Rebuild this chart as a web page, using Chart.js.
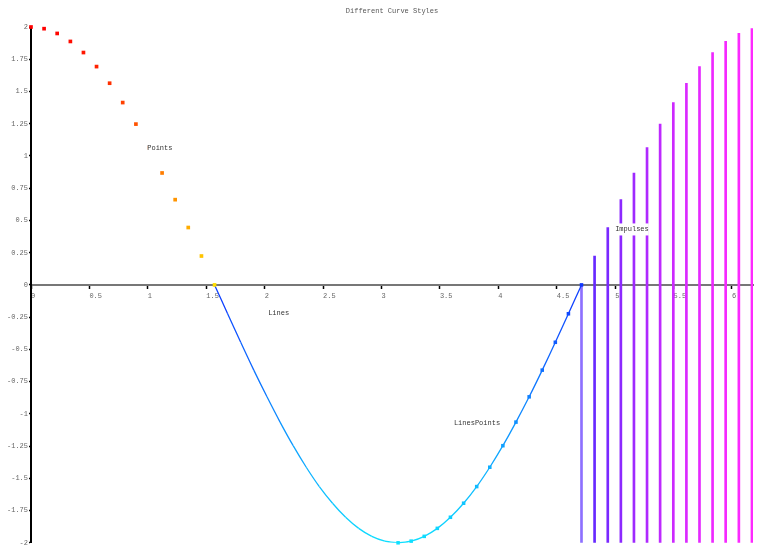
<!DOCTYPE html>
<html>
<head>
<meta charset="utf-8">
<script src="https://cdn.jsdelivr.net/npm/chart.js@4.4.0/dist/chart.umd.min.js"></script>
<style>
  html, body { margin: 0; padding: 0; background: #fff; }
  #wrap { width: 757px; height: 548px; }
</style>
</head>
<body>
<div id="wrap"><canvas id="curves"></canvas></div>
<script>
// Different Curve Styles

const pointsX = [0, 0.112, 0.224, 0.337, 0.449, 0.561, 0.673, 0.785, 0.898, 1.010, 1.122, 1.234, 1.346, 1.459, 1.571];
const pointsY = [2, 1.987, 1.950, 1.888, 1.802, 1.693, 1.564, 1.414, 1.247, 1.064, 0.868, 0.661, 0.445, 0.224, 0];

const linesX = [1.571, 1.683, 1.795, 1.907, 2.020, 2.132, 2.244, 2.356, 2.468, 2.581, 2.693, 2.805, 2.917, 3.029, 3.142];
const linesY = [0, -0.224, -0.445, -0.661, -0.868, -1.064, -1.247, -1.414, -1.564, -1.693, -1.802, -1.888, -1.950, -1.987, -2];

const linesPointsX = [3.142, 3.254, 3.366, 3.478, 3.590, 3.703, 3.815, 3.927, 4.039, 4.151, 4.264, 4.376, 4.488, 4.600, 4.712];
const linesPointsY = [-2, -1.987, -1.950, -1.888, -1.802, -1.693, -1.564, -1.414, -1.247, -1.064, -0.868, -0.661, -0.445, -0.224, 0];

const impulsesX = [4.712, 4.824, 4.937, 5.049, 5.161, 5.273, 5.385, 5.498, 5.610, 5.722, 5.834, 5.946, 6.059, 6.171];
const impulsesY = [0, 0.224, 0.445, 0.661, 0.868, 1.064, 1.247, 1.414, 1.564, 1.693, 1.802, 1.888, 1.950, 1.987];
const impulseBase = -2;

const xTicks = [0, 0.5, 1, 1.5, 2, 2.5, 3, 3.5, 4, 4.5, 5, 5.5, 6];
const yTicks = [-2, -1.75, -1.5, -1.25, -1, -0.75, -0.5, -0.25, 0, 0.25, 0.5, 0.75, 1, 1.25, 1.5, 1.75, 2];

const curveLabels = ['Points', 'Lines', 'LinesPoints', 'Impulses'];
const curveLabelX = [0.995, 2.03, 3.62, 5.0];
const curveLabelY = [1.06, -0.22, -1.07, 0.43];

const FONT = '"Liberation Mono", "DejaVu Sans Mono", monospace';

// colour ramps by value, like the original palette
function warmColor(y) {
    return 'hsl(' + (52 * (1 - y / 2)).toFixed(1) + ',100%,50%)';
}
function coolColor(y) {
    return 'hsl(' + (230 - 42 * (Math.abs(y) / 2)).toFixed(1) + ',100%,53%)';
}
function violetColor(y) {
    return 'hsl(' + (252 + 48 * (y / 2)).toFixed(1) + ',100%,' + (y < 0.1 ? 72 : 58) + '%)';
}

const toXY = (xs, ys) => xs.map((x, i) => ({ x: x, y: ys[i] }));

const curveLabelPlugin = {
    id: 'curveLabels',
    afterDatasetsDraw(chart) {
        const ctx = chart.ctx;
        const xs = chart.scales.x;
        const ys = chart.scales.y;
        ctx.save();
        ctx.font = '7px ' + FONT;
        ctx.textBaseline = 'middle';
        ctx.textAlign = 'left';
        curveLabels.forEach((text, i) => {
            const px = xs.getPixelForValue(curveLabelX[i]);
            const py = ys.getPixelForValue(curveLabelY[i]);
            const w = ctx.measureText(text).width;
            ctx.fillStyle = '#fff';
            ctx.fillRect(px, py - 6, w, 12);
            ctx.fillStyle = '#333';
            ctx.fillText(text, px, py);
        });
        ctx.restore();
    }
};

Chart.defaults.font.family = FONT;
Chart.defaults.font.size = 7;
Chart.defaults.color = '#666';

new Chart(document.getElementById('curves'), {
    type: 'scatter',
    data: {
        datasets: [
            {
                label: 'Points',
                data: toXY(pointsX, pointsY),
                showLine: false,
                clip: false,
                pointStyle: 'rect',
                pointRadius: 2.6,
                borderWidth: 0,
                backgroundColor: pointsY.map(warmColor)
            },
            {
                label: 'LinesPoints',
                data: toXY(linesPointsX, linesPointsY),
                showLine: true,
                clip: false,
                tension: 0.3,
                borderWidth: 1.3,
                segment: {
                    borderColor: c => coolColor((c.p0.parsed.y + c.p1.parsed.y) / 2)
                },
                pointStyle: 'rect',
                pointRadius: 2.5,
                borderColor: linesPointsY.map(coolColor),
                pointBorderWidth: 0,
                backgroundColor: linesPointsY.map(coolColor)
            },
            {
                label: 'Lines',
                data: toXY(linesX, linesY),
                showLine: true,
                tension: 0.3,
                borderWidth: 1.3,
                segment: {
                    borderColor: c => coolColor((c.p0.parsed.y + c.p1.parsed.y) / 2)
                },
                pointRadius: 0
            },
            {
                type: 'bar',
                label: 'Impulses',
                data: impulsesX.map((x, i) => ({ x: x, y: [impulseBase, impulsesY[i]] })),
                barThickness: 2,
                borderWidth: 0,
                borderSkipped: false,
                backgroundColor: impulsesY.map(violetColor)
            }
        ]
    },
    options: {
        responsive: true,
        maintainAspectRatio: false,
        animation: false,
        events: [],
        layout: { padding: { left: 0, right: 0, top: 0, bottom: 5 } },
        plugins: {
            legend: { display: false },
            tooltip: { enabled: false },
            title: {
                display: true,
                text: 'Different Curve Styles',
                fullSize: false,
                color: '#555',
                font: { size: 7, weight: 'normal' },
                padding: { top: 7, bottom: 11.6 }
            }
        },
        scales: {
            x: {
                type: 'linear',
                position: { y: 0 },
                offset: false,
                min: 0,
                max: 6.18,
                afterBuildTicks: s => { s.ticks = xTicks.map(v => ({ value: v })); },
                ticks: {
                    align: 'start',
                    padding: 4,
                    maxRotation: 0,
                    autoSkip: false,
                    callback: v => String(v)
                },
                grid: {
                    offset: false,
                    drawOnChartArea: false,
                    drawTicks: true,
                    tickLength: 3,
                    tickColor: '#000',
                    tickWidth: 1.5
                },
                border: { display: true, color: '#777', width: 2 }
            },
            y: {
                type: 'linear',
                position: 'left',
                min: -2,
                max: 2,
                afterBuildTicks: s => { s.ticks = yTicks.map(v => ({ value: v })); },
                afterFit: s => { s.width = 31; },
                ticks: {
                    padding: 1,
                    autoSkip: false,
                    callback: v => String(v)
                },
                grid: {
                    drawOnChartArea: false,
                    drawTicks: true,
                    tickLength: 2,
                    tickColor: '#000',
                    tickWidth: 1.5
                },
                border: { display: true, color: '#000', width: 2 }
            }
        }
    },
    plugins: [curveLabelPlugin]
});
</script>
</body>
</html>
